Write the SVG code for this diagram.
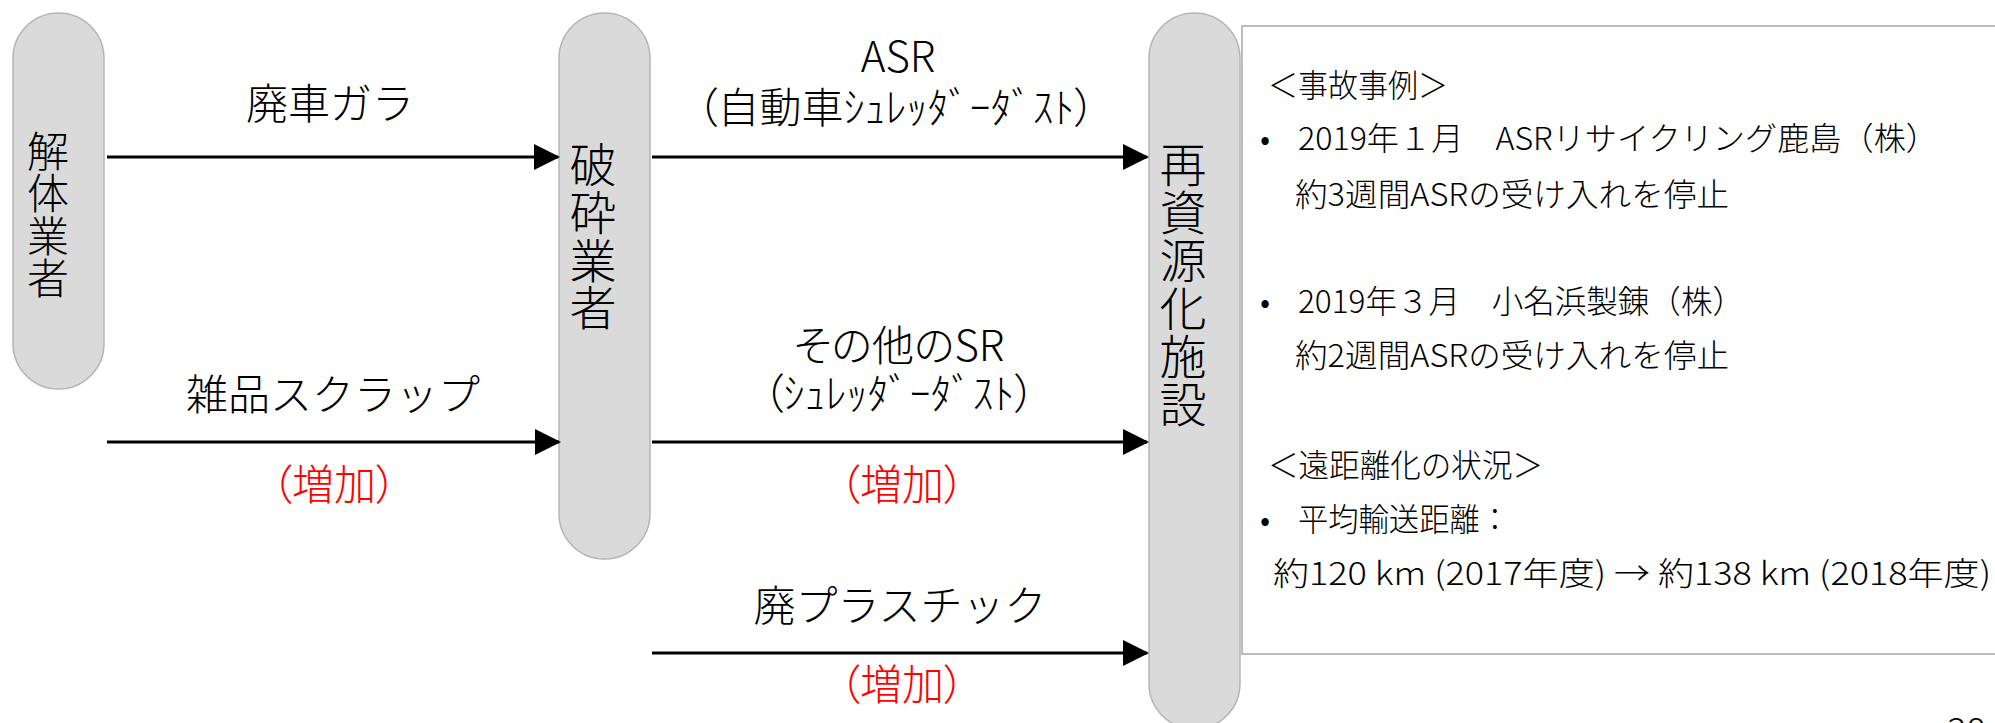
<svg xmlns="http://www.w3.org/2000/svg" width="1995" height="723" viewBox="0 0 1995 723">
<style>
  text { font-family: "Noto Sans CJK JP", "Noto Sans", sans-serif; fill: #000; font-weight: 300; }
  .pill { fill: #dadada; stroke: #b5b5b5; stroke-width: 1.5; }
  .lbl { font-size: 42px; text-anchor: middle; }
  .red { fill: #ff0000; }
  .palt { font-feature-settings: "palt"; }
  .vt { writing-mode: vertical-rl; text-anchor: start; }
  .box { fill: #ffffff; stroke: #bdbdbd; stroke-width: 2; }
  .bt { font-size: 32px; }
  .conn { stroke: #000; stroke-width: 3; fill: none; marker-end: url(#arr); }
</style>
<defs>
  <marker id="arr" markerUnits="userSpaceOnUse" markerWidth="26" markerHeight="26" viewBox="0 0 26 26" refX="24" refY="13" orient="auto">
    <path d="M0,0 L26,13 L0,26 z" fill="#000"/>
  </marker>
</defs>

<g id="info-box">
  <rect class="box" x="1242" y="26" width="800" height="628"/>
  <text class="bt" x="1268" y="97" textLength="180" lengthAdjust="spacingAndGlyphs">＜事故事例＞</text>
  <text class="bt" x="1260" y="150">•</text>
  <text class="bt" x="1298" y="150" textLength="640" lengthAdjust="spacingAndGlyphs">2019年１月　ASRリサイクリング鹿島（株）</text>
  <text class="bt" x="1295" y="206" textLength="434" lengthAdjust="spacingAndGlyphs">約3週間ASRの受け入れを停止</text>
  <text class="bt" x="1260" y="313">•</text>
  <text class="bt" x="1298" y="313" textLength="446" lengthAdjust="spacingAndGlyphs">2019年３月　小名浜製錬（株）</text>
  <text class="bt" x="1295" y="367" textLength="434" lengthAdjust="spacingAndGlyphs">約2週間ASRの受け入れを停止</text>
  <text class="bt" x="1268" y="477" textLength="275" lengthAdjust="spacingAndGlyphs">＜遠距離化の状況＞</text>
  <text class="bt" x="1260" y="531">•</text>
  <text class="bt" x="1298" y="531" textLength="212" lengthAdjust="spacingAndGlyphs">平均輸送距離：</text>
  <text class="bt" x="1273" y="585" textLength="718" lengthAdjust="spacingAndGlyphs">約120 km (2017年度) → 約138 km (2018年度)</text>
</g>

<g id="node-kaitai">
  <rect class="pill" x="13" y="13" width="91" height="376" rx="45.5" ry="45.5"/>
  <text class="vt" x="48" y="130" style="font-size:42px;letter-spacing:0.3px">解体業者</text>
</g>

<g id="node-hasai">
  <rect class="pill" x="559" y="13" width="91" height="546" rx="45.5" ry="45.5"/>
  <text class="vt" x="593" y="141" style="font-size:47px;letter-spacing:0.7px">破砕業者</text>
</g>

<g id="node-saishigen">
  <rect class="pill" x="1149" y="13" width="91" height="716" rx="45.5" ry="45.5"/>
  <text class="vt" x="1183" y="141" style="font-size:47px;letter-spacing:1px">再資源化施設</text>
</g>

<g id="connectors">
  <line class="conn" x1="107" y1="157" x2="558" y2="157"/>
  <line class="conn" x1="107" y1="442" x2="559" y2="442"/>
  <line class="conn" x1="652" y1="157" x2="1147" y2="157"/>
  <line class="conn" x1="652" y1="442" x2="1147" y2="442"/>
  <line class="conn" x1="652" y1="653" x2="1147" y2="653"/>
</g>

<g id="labels">
  <text class="lbl" x="330" y="119">廃車ガラ</text>
  <text class="lbl" x="333" y="410">雑品スクラップ</text>
  <text class="lbl red palt" x="334" y="500">（増加）</text>
  <text class="lbl palt"><tspan x="898" y="72">ASR</tspan><tspan x="896" y="123">（自動車ｼｭﾚｯﾀﾞｰﾀﾞｽﾄ）</tspan></text>
  <text class="lbl palt"><tspan x="899" y="361">その他のSR</tspan><tspan x="899" y="409">（ｼｭﾚｯﾀﾞｰﾀﾞｽﾄ）</tspan></text>
  <text class="lbl red palt" x="902" y="500">（増加）</text>
  <text class="lbl" x="900" y="621">廃プラスチック</text>
  <text class="lbl red palt" x="902" y="700">（増加）</text>
</g>

<text x="1947" y="744" style="font-size:36px">38</text>
</svg>
